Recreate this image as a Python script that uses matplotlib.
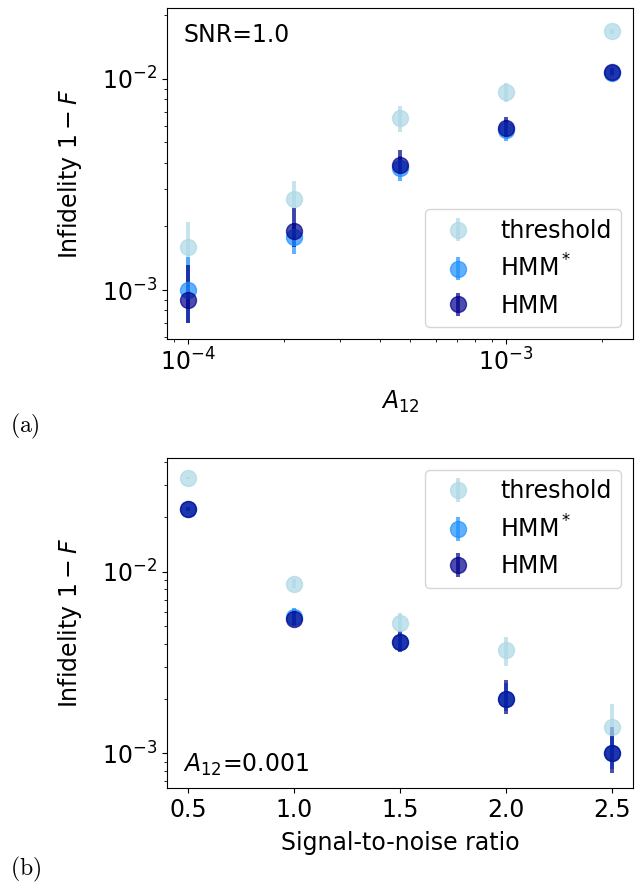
import numpy as np
import matplotlib
matplotlib.use("Agg")
import matplotlib.pyplot as plt

plt.rcParams['font.family'] = ['DejaVu Sans']
plt.rcParams['font.size'] = 17

# Panel (a): infidelity vs A12 at SNR=1.0
a12 = [1.0e-4, 2.15e-4, 4.64e-4, 1.0e-3, 2.15e-3]
a_thr = [1.6e-3, 2.7e-3, 6.5e-3, 8.7e-3, 1.68e-2]
a_thr_err = [0.5e-3, 0.6e-3, 0.9e-3, 0.9e-3, 0.5e-3]
a_hmms = [1.0e-3, 1.78e-3, 3.8e-3, 5.7e-3, 1.07e-2]
a_hmms_lo = [0.3e-3, 0.3e-3, 0.5e-3, 0.6e-3, 0.4e-3]
a_hmms_hi = [0.43e-3, 0.3e-3, 0.5e-3, 0.6e-3, 0.4e-3]
a_hmm = [0.9e-3, 1.9e-3, 3.9e-3, 5.85e-3, 1.08e-2]
a_hmm_lo = [0.2e-3, 0.3e-3, 0.35e-3, 0.5e-3, 0.4e-3]
a_hmm_hi = [0.41e-3, 0.55e-3, 0.7e-3, 0.75e-3, 0.5e-3]

# Panel (b): infidelity vs SNR at A12=0.001
snr = [0.5, 1.0, 1.5, 2.0, 2.5]
b_thr = [3.28e-2, 8.6e-3, 5.2e-3, 3.7e-3, 1.4e-3]
b_thr_err = [0.6e-3, 0.5e-3, 0.75e-3, 0.68e-3, 0.47e-3]
b_hmms = [2.22e-2, 5.6e-3, 4.1e-3, 2.0e-3, 1.0e-3]
b_hmms_lo = [0.5e-3, 0.5e-3, 0.45e-3, 0.3e-3, 0.18e-3]
b_hmms_hi = [0.5e-3, 0.7e-3, 0.5e-3, 0.45e-3, 0.3e-3]
b_hmm = [2.22e-2, 5.5e-3, 4.1e-3, 2.0e-3, 1.0e-3]
b_hmm_lo = [0.5e-3, 0.5e-3, 0.5e-3, 0.36e-3, 0.22e-3]
b_hmm_hi = [0.5e-3, 0.6e-3, 0.6e-3, 0.54e-3, 0.4e-3]

labels = ['threshold', 'HMM$^*$', 'HMM']
colors = ['lightblue', 'dodgerblue', 'darkblue']

fig = plt.figure(figsize=(6.39, 8.83), dpi=100)
axa = fig.add_axes([0.2613, 0.6161, 0.7293, 0.3749])
axb = fig.add_axes([0.2613, 0.1076, 0.7293, 0.3737])

kw = dict(fmt='o', markersize=11.5, elinewidth=2.8, alpha=0.7, capsize=0)

axa.errorbar(a12, a_thr, yerr=a_thr_err, color=colors[0], label=labels[0], **kw)
axa.errorbar(a12, a_hmms, yerr=[a_hmms_lo, a_hmms_hi], color=colors[1], label=labels[1], **kw)
axa.errorbar(a12, a_hmm, yerr=[a_hmm_lo, a_hmm_hi], color=colors[2], label=labels[2], **kw)
axa.set_xscale('log')
axa.set_yscale('log')
axa.set_xlabel('$A_{12}$', labelpad=9)
axa.set_ylabel('Infidelity $1-F$', labelpad=13)
axa.set_ylim(10**-3.232, 10**-1.664)
axa.text(0.035, 0.955, 'SNR=1.0', transform=axa.transAxes, va='top', ha='left')
axa.legend(loc='lower right')

axb.errorbar(snr, b_thr, yerr=b_thr_err, color=colors[0], label=labels[0], **kw)
axb.errorbar(snr, b_hmms, yerr=[b_hmms_lo, b_hmms_hi], color=colors[1], label=labels[1], **kw)
axb.errorbar(snr, b_hmm, yerr=[b_hmm_lo, b_hmm_hi], color=colors[2], label=labels[2], **kw)
axb.set_yscale('log')
axb.set_xlabel('Signal-to-noise ratio', labelpad=7)
axb.set_ylabel('Infidelity $1-F$', labelpad=13)
axb.set_ylim(10**-3.191, 10**-1.374)
axb.set_xticks(snr)
axb.text(0.035, 0.03, '$A_{12}$=0.001', transform=axb.transAxes, va='bottom', ha='left')
axb.legend(loc='upper right')

fig.text(10/639, 1-432/883, '$\\mathrm{(a)}$', math_fontfamily='cm', fontsize=17, va='baseline')
fig.text(10/639, 1-875/883, '$\\mathrm{(b)}$', math_fontfamily='cm', fontsize=17, va='baseline')

fig.savefig('out.png', dpi=100)
